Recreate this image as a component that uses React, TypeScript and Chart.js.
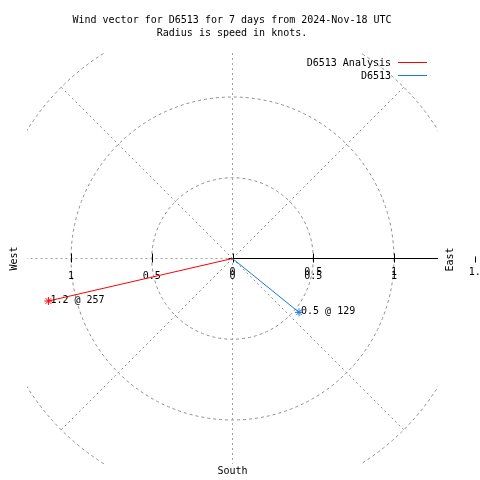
import React, { useEffect, useRef } from "react";
import { Chart, registerables } from "chart.js";

Chart.register(...registerables);

const titleLines = [
  "Wind vector for D6513 for 7 days from 2024-Nov-18 UTC",
  "Radius is speed in knots.",
];
const seriesNames = ["D6513 Analysis", "D6513"];
const seriesColors = ["#ff0000", "#1a78dc"];
const speedsKnots = [1.17, 0.53];
const directionsDeg = [257, 129];
const vectorLabels = ["1.2 @ 257", "0.5 @ 129"];
const ringRadii = [0.5, 1, 1.5];
const spokeAngles = [45, 135, 225, 315];
const gridTickValues = [-1, -0.5, 0, 0.5, 1];
const gridTickLabels = ["1", "0.5", "0", "0.5", "1"];
const axisTickValues = [0, 0.5, 1, 1.5];
const axisTickLabels = ["0", "0.5", "1", "1.5"];
const compassLabels = ["West", "East", "South"];
const AXIS_MAX = 1.2725;

const FONT = "10px 'DejaVu Sans Mono', 'Liberation Mono', monospace";

const polarPlugin = {
  id: "polarGrid",
  beforeDatasetsDraw(chart: any) {
    const { ctx, chartArea: a, scales } = chart;
    const xs = scales.x;
    const ys = scales.y;
    const cx = xs.getPixelForValue(0);
    const cy = ys.getPixelForValue(0);
    const unit = xs.getPixelForValue(1) - cx;

    ctx.save();
    ctx.beginPath();
    ctx.rect(a.left, a.top, a.right - a.left, a.bottom - a.top);
    ctx.clip();
    ctx.lineWidth = 1;
    ctx.strokeStyle = "#8c8c8c";
    ctx.setLineDash([3, 3]);
    for (const r of ringRadii) {
      ctx.beginPath();
      ctx.arc(cx, cy, r * unit, 0, Math.PI * 2);
      ctx.stroke();
    }
    ctx.strokeStyle = "#909090";
    ctx.setLineDash([2, 3]);
    const rMax = ringRadii[ringRadii.length - 1];
    for (const ang of spokeAngles) {
      const t = (ang * Math.PI) / 180;
      ctx.beginPath();
      ctx.moveTo(cx, cy);
      ctx.lineTo(cx + rMax * unit * Math.sin(t), cy - rMax * unit * Math.cos(t));
      ctx.stroke();
    }
    ctx.strokeStyle = "#a0a0a0";
    ctx.beginPath();
    ctx.moveTo(cx, cy);
    ctx.lineTo(a.left, cy);
    ctx.stroke();
    ctx.beginPath();
    ctx.moveTo(cx, a.top);
    ctx.lineTo(cx, a.bottom);
    ctx.stroke();
    ctx.restore();

    // solid radial axis
    ctx.save();
    ctx.strokeStyle = "#000000";
    ctx.lineWidth = 1;
    ctx.setLineDash([]);
    ctx.beginPath();
    ctx.moveTo(cx, cy);
    ctx.lineTo(a.right, cy);
    ctx.stroke();
    for (const v of gridTickValues) {
      const px = Math.round(xs.getPixelForValue(v)) + 0.5;
      ctx.beginPath();
      ctx.moveTo(px, cy - 5);
      ctx.lineTo(px, cy + 4);
      ctx.stroke();
    }
    ctx.beginPath();
    ctx.moveTo(cx - 4, cy);
    ctx.lineTo(cx + 4, cy);
    ctx.stroke();
    const outer = axisTickValues[axisTickValues.length - 1];
    const opx = Math.round(xs.getPixelForValue(outer)) + 0.5;
    ctx.beginPath();
    ctx.moveTo(opx, cy - 2);
    ctx.lineTo(opx, cy + 4);
    ctx.stroke();

    // tick labels
    ctx.fillStyle = "#000000";
    ctx.font = FONT;
    ctx.textAlign = "center";
    ctx.textBaseline = "middle";
    gridTickValues.forEach((v, i) => {
      ctx.fillText(gridTickLabels[i], xs.getPixelForValue(v), cy + 18);
    });
    axisTickValues.forEach((v, i) => {
      const px = xs.getPixelForValue(v) + (i === axisTickValues.length - 1 ? 3 : 0);
      ctx.fillText(axisTickLabels[i], px, cy + 14);
    });

    // compass labels
    ctx.save();
    ctx.translate(14, cy);
    ctx.rotate(-Math.PI / 2);
    ctx.fillText(compassLabels[0], 0, 0);
    ctx.restore();
    ctx.save();
    ctx.translate(450, cy + 1);
    ctx.rotate(-Math.PI / 2);
    ctx.fillText(compassLabels[1], 0, 0);
    ctx.restore();
    ctx.fillText(compassLabels[2], cx, a.bottom + 7);
    ctx.restore();
  },
  afterDatasetsDraw(chart: any) {
    const { ctx } = chart;
    ctx.save();
    ctx.fillStyle = "#000000";
    ctx.font = FONT;
    ctx.textAlign = "left";
    ctx.textBaseline = "middle";
    chart.data.datasets.forEach((_: any, i: number) => {
      const pt = chart.getDatasetMeta(i).data[1];
      ctx.fillText(vectorLabels[i], pt.x + 2, pt.y - 1);
    });
    ctx.restore();
  },
  afterDraw(chart: any) {
    const { ctx } = chart;
    ctx.save();
    ctx.fillStyle = "#000000";
    ctx.font = FONT;
    ctx.textBaseline = "middle";
    ctx.textAlign = "center";
    ctx.fillText(titleLines[0], 232, 20);
    ctx.fillText(titleLines[1], 232, 33);
    ctx.textAlign = "right";
    seriesNames.forEach((name, i) => {
      const yy = 63 + i * 13;
      ctx.fillText(name, 391, yy);
      ctx.strokeStyle = seriesColors[i];
      ctx.lineWidth = 1;
      ctx.beginPath();
      ctx.moveTo(398, yy - 0.5);
      ctx.lineTo(427, yy - 0.5);
      ctx.stroke();
    });
    ctx.restore();
  },
};

export default function App() {
  const ref = useRef<HTMLCanvasElement>(null);
  useEffect(() => {
    if (!ref.current) return;
    const datasets = seriesNames.map((name, i) => {
      const t = (directionsDeg[i] * Math.PI) / 180;
      return {
        label: name,
        data: [
          { x: 0, y: 0 },
          { x: speedsKnots[i] * Math.sin(t), y: speedsKnots[i] * Math.cos(t) },
        ],
        showLine: true,
        borderColor: seriesColors[i],
        backgroundColor: seriesColors[i],
        borderWidth: 1,
        pointStyle: "star",
        pointRadius: [0, 4],
        pointBorderColor: seriesColors[i],
        pointBorderWidth: 1,
        clip: false,
      };
    });
    const chart = new Chart(ref.current, {
      type: "scatter",
      data: { datasets },
      options: {
        animation: false,
        responsive: false,
        maintainAspectRatio: false,
        events: [],
        layout: { padding: { left: 27, right: 42, top: 53, bottom: 16 } },
        scales: {
          x: { type: "linear", min: -AXIS_MAX, max: AXIS_MAX, display: false },
          y: { type: "linear", min: -AXIS_MAX, max: AXIS_MAX, display: false },
        },
        plugins: {
          legend: { display: false },
          tooltip: { enabled: false },
          title: { display: false },
        },
      },
      plugins: [polarPlugin],
    } as any);
    return () => chart.destroy();
  }, []);
  return (
    <div style={{ position: "absolute", left: 0, top: 0, width: 480, height: 480, background: "#ffffff" }}>
      <canvas ref={ref} width={480} height={480} style={{ width: 480, height: 480 }} />
    </div>
  );
}
